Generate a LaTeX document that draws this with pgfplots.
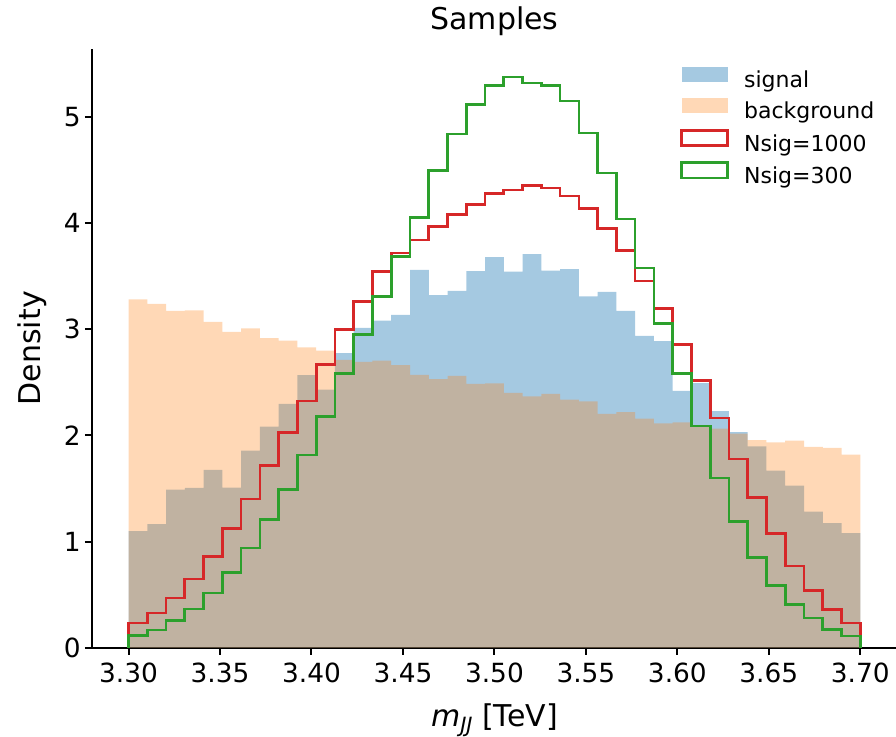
\documentclass[border=0pt]{standalone}
\usepackage{fontspec}
\setmainfont{DejaVu Sans}
\usepackage{pgfplots}
\pgfplotsset{compat=1.18}
\usepackage{pgfplotstable}
\definecolor{cBlue}{HTML}{1F77B4}
\definecolor{cOrange}{HTML}{FF7F0E}
\definecolor{cRed}{HTML}{D62728}
\definecolor{cGreen}{HTML}{2CA02C}

\pgfplotstableread{
x sig bkg nA nB
3.30000 0 0 0 0
3.30000 1.098 3.282 0.233 0.114
3.31026 1.164 3.238 0.327 0.167
3.32051 1.490 3.172 0.468 0.256
3.33077 1.505 3.178 0.647 0.365
3.34103 1.675 3.069 0.860 0.515
3.35128 1.508 2.975 1.120 0.707
3.36154 1.856 3.009 1.402 0.941
3.37179 2.082 2.915 1.718 1.205
3.38205 2.298 2.893 2.025 1.490
3.39231 2.568 2.830 2.323 1.816
3.40256 2.430 2.799 2.671 2.178
3.41282 2.774 2.711 2.996 2.583
3.42308 3.012 2.692 3.260 2.950
3.43333 3.080 2.704 3.542 3.310
3.44359 3.134 2.662 3.717 3.682
3.45385 3.560 2.570 3.839 4.049
3.46410 3.322 2.530 3.965 4.494
3.47436 3.360 2.561 4.081 4.838
3.48462 3.548 2.486 4.175 5.114
3.49487 3.680 2.489 4.278 5.296
3.50513 3.542 2.401 4.312 5.374
3.51538 3.708 2.367 4.353 5.318
3.52564 3.551 2.392 4.331 5.293
3.53590 3.567 2.336 4.256 5.149
3.54615 3.310 2.320 4.137 4.848
3.55641 3.352 2.202 3.946 4.472
3.56667 3.172 2.220 3.739 4.038
3.57692 2.937 2.157 3.454 3.576
3.58718 2.887 2.113 3.197 3.053
3.59744 2.420 2.122 2.859 2.583
3.60769 2.492 2.091 2.514 2.088
3.61795 2.229 2.063 2.164 1.600
3.62821 2.030 2.016 1.778 1.186
3.63846 1.897 1.956 1.417 0.851
3.64872 1.668 1.935 1.076 0.587
3.65897 1.527 1.950 0.769 0.406
3.66923 1.283 1.891 0.540 0.280
3.67949 1.173 1.882 0.359 0.174
3.68974 1.079 1.819 0.233 0.111
3.70000 1.079 1.819 0.233 0.111
3.70000 0 0 0 0
}\hist

\begin{document}
\begin{tikzpicture}
\useasboundingbox (-46pt,-44.5pt) rectangle (402.15pt,324pt);
\begin{axis}[
  at={(0pt,0pt)}, anchor=south west,
  scale only axis, width=402.6pt, height=299.7pt,
  xmin=3.28, xmax=3.72, ymin=0, ymax=5.643,
  axis x line*=bottom, axis y line*=left,
  axis line style={line width=1pt, black},
  tick align=outside, major tick length=3.5pt,
  tick style={line width=1pt, black},
  xtick={3.30,3.35,3.40,3.45,3.50,3.55,3.60,3.65,3.70},
  xticklabels={3.30,3.35,3.40,3.45,3.50,3.55,3.60,3.65,3.70},
  ytick={0,1,2,3,4,5},
  yticklabels={0,1,2,3,4,5},
  ticklabel style={font=\fontsize{13.2pt}{15pt}\selectfont},
  xticklabel style={anchor=base, inner sep=0pt, yshift=-14pt},
  yticklabel style={anchor=east, inner sep=0pt, xshift=-2pt},
  title={Samples},
  every axis title/.style={font=\fontsize{15pt}{18pt}\selectfont, at={(0.5,1.0314)}, anchor=base},
  xlabel={\textit{m}\raisebox{-0.35ex}{\fontsize{10.5pt}{12pt}\selectfont\textit{JJ}} [TeV]},
  xlabel style={font=\fontsize{15pt}{18pt}\selectfont, at={(0.5,-0.132)}, anchor=base},
  ylabel={Density},
  ylabel style={font=\fontsize{15pt}{18pt}\selectfont, at={(-0.0745,0.5)}, anchor=center, rotate=0},
  legend style={draw=none, fill=none, at={(0.7306,0.9705)}, anchor=north west,
    inner sep=0pt, font=\fontsize{11pt}{13pt}\selectfont, row sep=2.6pt, column sep=7.5pt,
    nodes={inner sep=0pt, text height=8pt, text depth=2.5pt}},
  legend cell align=left,
]
\addplot[const plot, fill=cBlue, fill opacity=0.4, draw=none,
  legend image code/.code={\fill[cBlue, fill opacity=0.4] (0pt,0pt) rectangle (23pt,7.7pt);}]
  table[x=x, y=sig] {\hist} \closedcycle;
\addlegendentry{signal}
\addplot[const plot, fill=cOrange, fill opacity=0.3, draw=none,
  legend image code/.code={\fill[cOrange, fill opacity=0.3] (0pt,0pt) rectangle (23pt,7.7pt);}]
  table[x=x, y=bkg] {\hist} \closedcycle;
\addlegendentry{background}
\addplot[const plot, draw=cRed, line width=1.35pt, fill=none,
  legend image code/.code={\draw[cRed, line width=1.35pt] (0pt,0pt) rectangle (23pt,7.7pt);}]
  table[x=x, y=nA] {\hist};
\addlegendentry{Nsig=1000}
\addplot[const plot, draw=cGreen, line width=1.35pt, fill=none,
  legend image code/.code={\draw[cGreen, line width=1.35pt] (0pt,0pt) rectangle (23pt,7.7pt);}]
  table[x=x, y=nB] {\hist};
\addlegendentry{Nsig=300}
\end{axis}
\end{tikzpicture}
\end{document}
